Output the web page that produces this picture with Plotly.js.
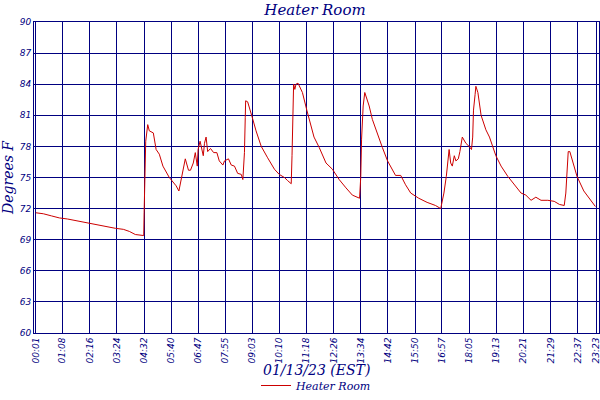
<!DOCTYPE html>
<html>
<head>
<meta charset="utf-8">
<script src="https://cdn.plot.ly/plotly-3.0.1.min.js"></script>
<style>
  body { margin: 0; background: #fff; }
  #chart { width: 600px; height: 400px; }
</style>
</head>
<body>
<div id="chart"></div>
<script>
// readings for 01/13/23, time of day and degrees F
var times = ['00:01','00:20','00:40','01:00','01:20','01:40','02:00','02:20','02:40','03:00',
  '03:20','03:40','03:55','04:10','04:25','04:31','04:32','04:34','04:36','04:41',
  '04:45','04:55','05:02','05:10','05:19','05:35','05:52','05:59','06:05','06:15',
  '06:23','06:28','06:35','06:40','06:45','06:47','06:52','06:55','07:00','07:03',
  '07:07','07:11','07:18','07:26','07:34','07:40','07:49','07:53','08:03','08:10',
  '08:18','08:26','08:35','08:39','08:43','08:45','08:46','08:51','08:58','09:04',
  '09:12','09:25','09:41','09:58','10:10','10:23','10:31','10:40','10:42','10:44',
  '10:46','10:49','10:52','10:57','11:08','11:19','11:29','11:37','11:50','12:07',
  '12:23','12:40','12:57','13:13','13:31','13:34','13:36','13:40','13:44','13:48',
  '13:55','14:03','14:16','14:28','14:41','14:53','15:01','15:14','15:26','15:39',
  '15:59','16:20','16:41','16:54','17:02','17:08','17:15','17:19','17:23','17:28',
  '17:32','17:38','17:42','17:48','17:57','18:05','18:11','18:14','18:16','18:20',
  '18:22','18:27','18:35','18:47','18:56','19:12','19:25','19:42','19:54','20:15',
  '20:27','20:40','20:52','21:05','21:22','21:38','21:51','22:03','22:07','22:11',
  '22:13','22:17','22:27','22:35','22:52','23:09','23:21'];
var temps = [71.6,71.5,71.3,71.1,71.0,70.85,70.7,70.5,70.35,70.25,
  70.1,70.0,69.8,69.5,69.4,69.4,71.6,75.8,78.5,80.1,
  79.5,79.3,77.7,77.25,76.1,75.0,74.2,73.7,75.0,76.8,
  75.7,75.7,76.4,77.4,76.1,77.7,78.5,77.9,77.1,78.3,
  78.9,77.5,77.8,77.4,77.4,76.6,76.2,76.6,76.8,76.2,
  76.1,75.4,75.3,74.8,77.4,80.8,82.4,82.3,81.5,80.6,
  79.5,78.0,76.9,75.8,75.3,75.0,74.7,74.4,77.1,81.5,
  84.0,83.5,84.0,84.1,83.2,81.5,79.9,78.9,77.9,76.4,
  75.8,74.8,74.0,73.3,73.0,75.1,78.7,81.9,83.2,82.8,
  81.9,80.6,79.1,77.9,76.6,75.8,75.2,75.2,74.3,73.5,
  73.0,72.6,72.3,72.0,73.5,75.1,77.7,76.4,76.1,77.1,
  76.6,76.8,77.5,78.9,78.3,78.0,77.7,78.9,81.5,83.0,
  83.8,83.2,81.0,79.6,78.9,77.1,76.1,75.1,74.5,73.5,
  73.3,72.8,73.1,72.8,72.8,72.7,72.4,72.3,73.5,76.1,
  77.5,77.5,76.1,75.1,73.7,72.8,72.2];
var tickLabels = ['00:01','01:08','02:16','03:24','04:32','05:40','06:47','07:55','09:03','10:10',
  '11:18','12:26','13:34','14:42','15:50','16:57','18:05','19:13','20:21','21:29','22:37','23:23'];
var yTicks = [60,63,66,69,72,75,78,81,84,87,90];

var day = '2023-01-13 ';
var navy = '#000080';

Plotly.newPlot('chart', [{
  x: times.map(function (t) { return day + t; }),
  y: temps,
  type: 'scatter',
  mode: 'lines',
  name: 'Heater Room',
  line: { color: '#cc0000', width: 1 }
}], {
  width: 600,
  height: 400,
  margin: { l: 34, r: 1, t: 22, b: 67 },
  paper_bgcolor: '#fff',
  plot_bgcolor: '#fff',
  title: {
    text: 'Heater Room',
    x: 0.525, y: 0.99, yanchor: 'top',
    font: { family: 'DejaVu Serif', size: 15, color: navy, style: 'italic' }
  },
  xaxis: {
    type: 'date',
    automargin: false,
    range: ['2023-01-12 23:56:30', '2023-01-13 23:30:00'],
    tickvals: tickLabels.map(function (t) { return day + t; }),
    ticktext: tickLabels,
    tickangle: -90,
    ticks: '',
    ticklabeloverflow: 'allow',
    tickfont: { family: 'DejaVu Sans', size: 9, color: navy, style: 'italic' },
    showgrid: true, gridcolor: navy, gridwidth: 1,
    showline: true, linecolor: navy, linewidth: 1, mirror: true,
    zeroline: false
  },
  yaxis: {
    automargin: false,
    range: [60, 90],
    tickvals: yTicks,
    ticks: '',
    ticklabeloverflow: 'allow',
    tickfont: { family: 'DejaVu Sans', size: 9, color: navy, style: 'italic' },
    showgrid: true, gridcolor: navy, gridwidth: 1,
    showline: true, linecolor: navy, linewidth: 1, mirror: true,
    zeroline: false,
    title: {
      text: 'Degrees F', standoff: 4,
      font: { family: 'DejaVu Serif', size: 14, color: navy, style: 'italic' }
    }
  },
  // x axis title placed by hand so it clears the rotated tick labels
  annotations: [{
    text: '01/13/23 (EST)',
    xref: 'paper', yref: 'paper', x: 0.5, y: -0.119,
    xanchor: 'center', yanchor: 'middle', showarrow: false,
    font: { family: 'DejaVu Serif', size: 14, color: navy, style: 'italic' }
  }],
  showlegend: true,
  legend: {
    orientation: 'h', x: 0.5, xanchor: 'center',
    yref: 'container', y: -0.028, yanchor: 'bottom',
    font: { family: 'DejaVu Serif', size: 11, color: navy, style: 'italic' }
  }
}, { displayModeBar: false, staticPlot: true });
</script>
</body>
</html>
